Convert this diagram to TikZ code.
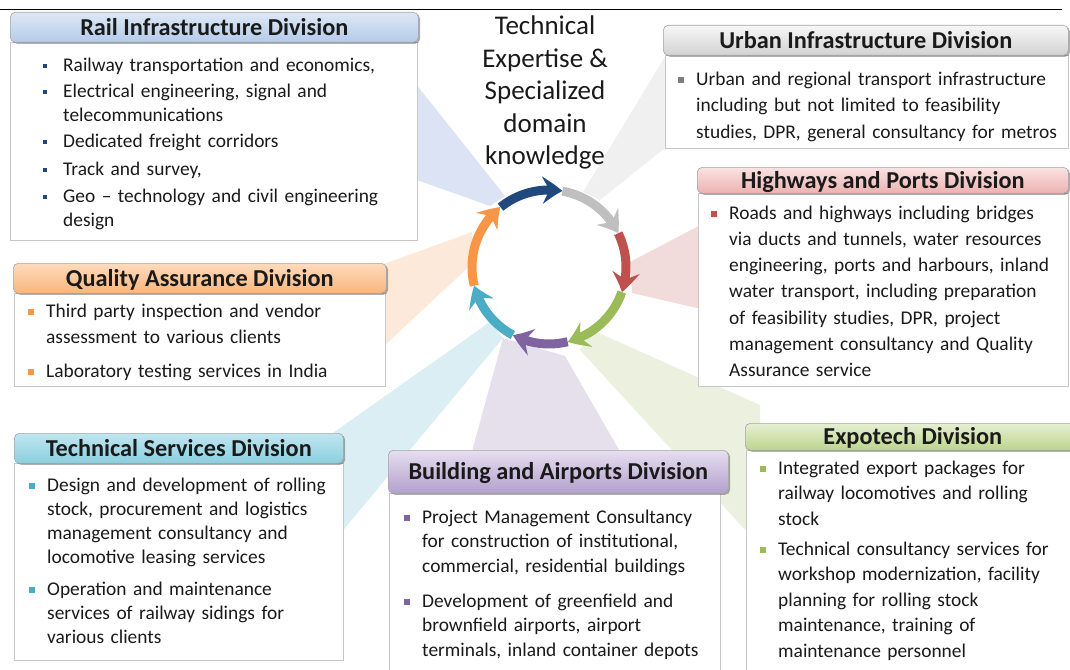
\documentclass[tikz,border=0pt]{standalone}
\usepackage{fontspec}
\setmainfont{Carlito}
\usetikzlibrary{arrows.meta,bending,shadows}

% text and arrow colours
\definecolor{txt}{HTML}{1A1A1A}
\definecolor{cBlue}{HTML}{1F497D}
\definecolor{cGrey}{HTML}{BFBFBF}
\definecolor{cRed}{HTML}{C0504D}
\definecolor{cGreen}{HTML}{9BBB59}
\definecolor{cPurple}{HTML}{8064A2}
\definecolor{cTeal}{HTML}{4BACC6}
\definecolor{cOrange}{HTML}{F79646}
\definecolor{cBullet}{HTML}{7F7F7F}
% pale ray colours
\definecolor{rBlue}{HTML}{DCE3F4}
\definecolor{rGrey}{HTML}{F0F0F0}
\definecolor{rRed}{HTML}{F2DCDB}
\definecolor{rGreen}{HTML}{EBF1DE}
\definecolor{rPurple}{HTML}{E5E0EC}
\definecolor{rTeal}{HTML}{DAEEF3}
\definecolor{rOrange}{HTML}{FDE9D9}
% header shading, top and bottom
\definecolor{hBlueT}{HTML}{DDE8F6}   \definecolor{hBlueB}{HTML}{B4CBE9}
\definecolor{hGreyT}{HTML}{F7F7F7}   \definecolor{hGreyB}{HTML}{D2D2D2}
\definecolor{hRedT}{HTML}{FAE3E2}    \definecolor{hRedB}{HTML}{ECB2B1}
\definecolor{hOrangeT}{HTML}{FDDBBD} \definecolor{hOrangeB}{HTML}{F9B57C}
\definecolor{hTealT}{HTML}{BFE6F0}   \definecolor{hTealB}{HTML}{8CCFE0}
\definecolor{hPurpleT}{HTML}{E6DEF0} \definecolor{hPurpleB}{HTML}{B3A0CC}
\definecolor{hGreenT}{HTML}{E6F0D2}  \definecolor{hGreenB}{HTML}{BCD48D}

% one bulleted entry: name, bullet x, text x, first baseline, bullet colour,
% bullet size, baselineskip, text
\newcommand\divitem[8]{%
  \fill[#5] ({#2-#6/2},{-#4+4.8-#6/2}) rectangle ++(#6,#6);
  \node[itemtext, font=\fontsize{19.4}{#7}\selectfont] (#1) at (#3,{-#4+0.7*#7}) {\strut #8};
}

\begin{document}
\begin{tikzpicture}[x=1pt,y=1pt,
  hdr/.style={draw=black!35, line width=0.6pt, rounded corners=5pt, anchor=north west,
    inner sep=0pt, font=\fontsize{24.3}{28}\selectfont\bfseries, text=txt,
    text height=18pt, text depth=2.4pt,
    drop shadow={shadow xshift=1.8pt, shadow yshift=-1.5pt, opacity=0.45, fill=black!70}},
  bodybox/.style={draw=black!22, line width=0.8pt, fill=white, anchor=north west, inner sep=0pt},
  itemtext/.style={anchor=north west, inner sep=0pt, align=left, text=txt, text width=390pt},
  ring/.style={line width=9pt, -{Stealth[length=20pt, width=27pt, inset=7pt, bend]}},
]
\useasboundingbox (0,0) rectangle (1070,-669);

% rule across the top
\coordinate (ruleL) at (0,-9);
\coordinate (ruleR) at (1062,-9);
\draw[line width=0.8pt] (ruleL) -- (ruleR);

% pale rays fanning out from the ring
\fill[rBlue]   (505,-196) -- (490,-206) -- (400,-174) -- (400,-64) -- cycle;
\fill[rGrey]   (583,-192) -- (600,-200) -- (680,-136) -- (680,-32) -- cycle;
\fill[rRed]    (630,-262) -- (632,-293) -- (710,-311) -- (710,-220) -- cycle;
\fill[rGreen]  (592,-330) -- (580,-350) -- (760,-546) -- (760,-405) -- cycle;
\fill[rPurple] (503,-338) -- (565,-356) -- (622,-455) -- (471,-455) -- cycle;
\fill[rTeal]   (490,-322) -- (503,-338) -- (330,-546) -- (330,-435) -- cycle;
\fill[rOrange] (472,-232) -- (474,-262) -- (370,-359) -- (370,-269) -- cycle;

% division bodies
\node[bodybox, minimum width=407pt, minimum height=198pt] (railB)  at (10,-42)  {};
\node[bodybox, minimum width=403pt, minimum height=93pt]  (urbanB) at (665,-55) {};
\node[bodybox, minimum width=370pt, minimum height=193pt] (hwyB)   at (698,-193) {};
\node[bodybox, minimum width=371pt, minimum height=93pt]  (qaB)    at (14,-293) {};
\node[bodybox, minimum width=329pt, minimum height=197pt] (techB)  at (14,-463) {};
\node[bodybox, minimum width=331pt, minimum height=200pt] (bldB)   at (389,-493) {};
\node[bodybox, minimum width=330pt, minimum height=240pt] (expoB)  at (746,-450) {};

% division headers
\node[hdr, top color=hBlueT, bottom color=hBlueB, minimum width=408pt, minimum height=30pt]
  (railH) at (10,-12) {Rail Infrastructure Division};
\node[hdr, top color=hGreyT, bottom color=hGreyB, minimum width=405pt, minimum height=30pt]
  (urbanH) at (663,-25) {Urban Infrastructure Division};
\node[hdr, top color=hRedT, bottom color=hRedB, minimum width=371pt, minimum height=26pt]
  (hwyH) at (697,-167) {Highways and Ports Division};
\node[hdr, top color=hOrangeT, bottom color=hOrangeB, minimum width=373pt, minimum height=30pt]
  (qaH) at (13,-263) {Quality Assurance Division};
\node[hdr, top color=hTealT, bottom color=hTealB, minimum width=329pt, minimum height=30pt]
  (techH) at (14,-433) {Technical Services Division};
\node[hdr, top color=hPurpleT, bottom color=hPurpleB, minimum width=340pt, minimum height=43pt]
  (bldH) at (388,-450) {Building and Airports Division};
\node[hdr, top color=hGreenT, bottom color=hGreenB, minimum width=335pt, minimum height=27pt]
  (expoH) at (745,-423) {Expotech Division};

% Rail Infrastructure Division
\divitem{rail1}{45}{63}{71}{cBlue}{4}{24}{Railway transportation and economics,}
\divitem{rail2}{45}{63}{97}{cBlue}{4}{24}{Electrical engineering, signal and\\telecommunications}
\divitem{rail3}{45}{63}{147}{cBlue}{4}{24}{Dedicated freight corridors}
\divitem{rail4}{45}{63}{175}{cBlue}{4}{24}{Track and survey,}
\divitem{rail5}{45}{63}{202}{cBlue}{4}{24}{Geo -- technology and civil engineering\\design}

% Urban Infrastructure Division
\divitem{urban1}{681}{696}{85}{cBullet}{6.5}{26.5}{Urban and regional transport infrastructure\\including but not limited to feasibility\\studies, DPR, general consultancy for metros}

% Highways and Ports Division
\divitem{hwy1}{714}{729}{219}{cRed}{6.5}{26.2}{Roads and highways including bridges\\via ducts and tunnels, water resources\\engineering, ports and harbours, inland\\water transport, including preparation\\of feasibility studies, DPR, project\\management consultancy and Quality\\Assurance service}

% Quality Assurance Division
\divitem{qa1}{31}{46}{317}{cOrange}{6.5}{26}{Third party inspection and vendor\\assessment to various clients}
\divitem{qa2}{31}{46}{377}{cOrange}{6.5}{26}{Laboratory testing services in India}

% Technical Services Division
\divitem{tech1}{32}{47}{491}{cTeal}{6.5}{24}{Design and development of rolling\\stock, procurement and logistics\\management consultancy and\\locomotive leasing services}
\divitem{tech2}{32}{47}{595}{cTeal}{6.5}{24}{Operation and maintenance\\services of railway sidings for\\various clients}

% Building and Airports Division
\divitem{bld1}{407}{422}{523}{cPurple}{6.5}{24.5}{Project Management Consultancy\\for construction of institutional,\\commercial, residential buildings}
\divitem{bld2}{407}{422}{607}{cPurple}{6.5}{24.5}{Development of greenfield and\\brownfield airports, airport\\terminals, inland container depots}

% Expotech Division
\divitem{expo1}{763}{778}{474}{cGreen}{6.5}{25.5}{Integrated export packages for\\railway locomotives and rolling\\stock}
\divitem{expo2}{763}{778}{555}{cGreen}{6.5}{25.5}{Technical consultancy services for\\workshop modernization, facility\\planning for rolling stock\\maintenance, training of\\maintenance personnel}

% central cycle of arrows
\coordinate (ctr) at (549,-267);
\fill[white] (ctr) circle (72);
\draw[ring, cBlue]   (ctr) ++(129:77)  arc[start angle=129,  end angle=80,   radius=77];
\draw[ring, cGrey]   (ctr) ++(80:77)   arc[start angle=80,   end angle=26,   radius=77];
\draw[ring, cRed]    (ctr) ++(26:77)   arc[start angle=26,   end angle=-19,  radius=77];
\draw[ring, cGreen]  (ctr) ++(-19:77)  arc[start angle=-19,  end angle=-76,  radius=77];
\draw[ring, cPurple] (ctr) ++(-76:77)  arc[start angle=-76,  end angle=-118, radius=77];
\draw[ring, cTeal]   (ctr) ++(-118:77) arc[start angle=-118, end angle=-166, radius=77];
\draw[ring, cOrange] (ctr) ++(-166:77) arc[start angle=-166, end angle=-231, radius=77];

% central caption
\node[font=\fontsize{27}{32.5}\selectfont, align=center, text=txt, inner sep=0pt, anchor=north]
  (core) at (545,{-34.7+0.7*32.5}) {\strut Technical\\Expertise \&\\Specialized\\domain\\knowledge};
\end{tikzpicture}
\end{document}
